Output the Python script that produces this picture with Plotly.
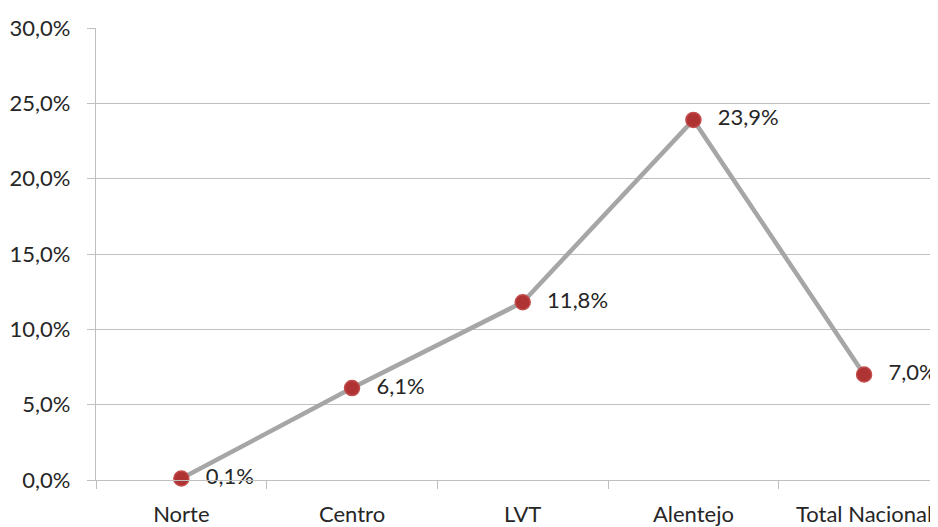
import plotly.graph_objects as go

categories = ["Norte", "Centro", "LVT", "Alentejo", "Total Nacional"]
values_pct = [0.1, 6.1, 11.8, 23.9, 7.0]
y_ticks_pct = [0, 5, 10, 15, 20, 25, 30]

values = [v / 100 for v in values_pct]
y_ticks = [v / 100 for v in y_ticks_pct]

font = dict(family="Lato, Carlito, Calibri, sans-serif", size=22, color="#262626")

fig = go.Figure()
fig.add_trace(go.Scatter(
    x=categories,
    y=values,
    mode="lines+markers+text",
    line=dict(color="#a6a6a6", width=4.5),
    marker=dict(size=15, color="#b03333", line=dict(color="#c24b4b", width=1.5)),
    text=["  \u2009" + f"{v:.1f}".replace(".", ",") + "%" for v in values_pct],
    textposition="middle right",
    textfont=font,
    cliponaxis=False,
    hoverinfo="skip",
))

# the page body adds an 8px offset, so the figure is 8px smaller than the window
fig.update_layout(
    width=930,
    height=519,
    margin=dict(l=88, r=0, t=20, b=45),
    paper_bgcolor="white",
    plot_bgcolor="white",
    showlegend=False,
    separators=",.",
    font=font,
)
fig.update_xaxes(
    type="category",
    range=[-0.5, 4.433],
    showgrid=False,
    showline=True,
    linecolor="#bfbfbf",
    linewidth=1.2,
    ticks="outside",
    tickson="boundaries",
    ticklen=8,
    tickcolor="#bfbfbf",
    ticklabelstandoff=14,
    zeroline=False,
)
fig.update_yaxes(
    range=[0, 0.30],
    tickvals=y_ticks,
    tickformat=".1%",
    showgrid=True,
    gridcolor="#c0c0c0",
    gridwidth=1.2,
    showline=True,
    linecolor="#bfbfbf",
    linewidth=1.2,
    ticks="outside",
    ticklen=8,
    tickcolor="#bfbfbf",
    ticklabelstandoff=12,
    zeroline=False,
)

fig.write_html("out.html")
